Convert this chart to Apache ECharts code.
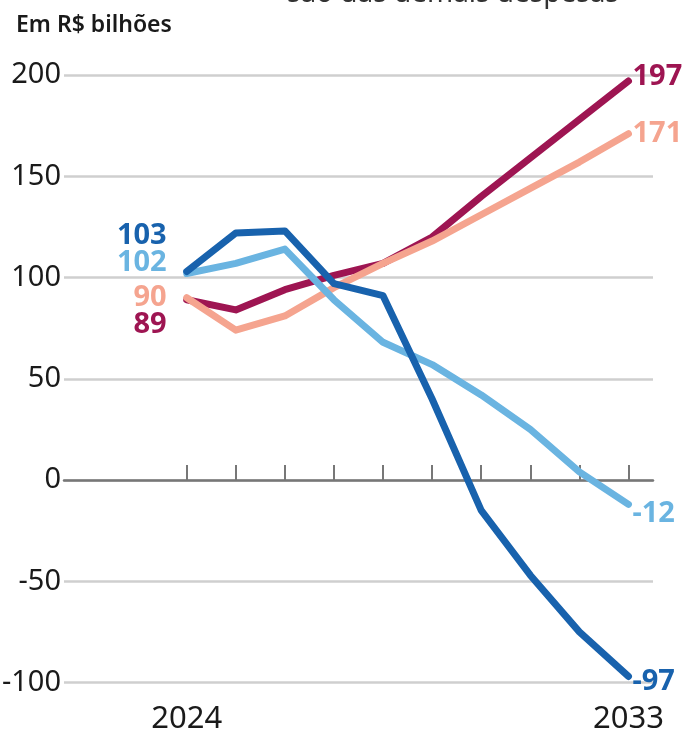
<!DOCTYPE html>
<html>
<head>
<meta charset="utf-8">
<script src="https://cdn.jsdelivr.net/npm/echarts@6/dist/echarts.min.js"></script>
<style>
html,body{margin:0;padding:0;background:#fff;}
#chart{width:693px;height:732px;}
</style>
</head>
<body>
<div id="chart"></div>
<script>
// ---- data ----
var years = [2024, 2025, 2026, 2027, 2028, 2029, 2030, 2031, 2032, 2033];
var serieCrimson = [89, 84, 94, 101, 107, 120, 140, 159, 178, 197];
var serieSalmon = [90, 74, 81, 95, 107, 118, 131, 144, 157, 171];
var serieLightBlue = [102, 107, 114, 89, 68, 57, 42, 25, 4, -12];
var serieDarkBlue = [103, 122, 123, 97, 91, 40, -15, -47, -75, -97];
var yTicks = [-100, -50, 0, 50, 100, 150, 200];
var xLabelYears = [2024, 2033];
var unitLabel = 'Em R$ bilhões';
var topText = 'são das demais despesas';

var FONT = '"Noto Sans", "Open Sans", sans-serif';

function makeSeries(name, values, color, startDy, endDy, z) {
  var last = values.length - 1;
  var data = years.map(function (yr, i) {
    var item = { value: [yr, values[i]] };
    if (i === 0) {
      item.label = { show: true, position: 'left', distance: 20 };
    } else if (i === last) {
      item.label = { show: true, position: 'right', distance: 4 };
    }
    return item;
  });
  return {
    name: name,
    type: 'line',
    xAxisIndex: 0,
    yAxisIndex: 0,
    data: data,
    z: z,
    showSymbol: true,
    symbol: 'circle',
    symbolSize: 0.01,
    lineStyle: { color: color, width: 7, cap: 'round', join: 'round' },
    itemStyle: { color: color },
    label: {
      show: false,
      color: color,
      fontFamily: FONT,
      fontWeight: 'bold',
      fontSize: 29,
      formatter: function (p) { return String(p.value[1]); }
    },
    labelLayout: function (params) {
      return { hideOverlap: false, dy: params.dataIndex === 0 ? startDy : endDy };
    },
    emphasis: { disabled: true },
    silent: true
  };
}

var chart = echarts.init(document.getElementById('chart'), null, { renderer: 'canvas' });
chart.setOption({
  animation: false,
  backgroundColor: '#ffffff',
  title: [
    {
      text: topText, left: 282, top: -25,
      textStyle: { fontFamily: FONT, fontSize: 28, fontWeight: 'normal', color: '#333' }
    },
    {
      text: unitLabel, left: 11, top: 9,
      textStyle: { fontFamily: FONT, fontSize: 23, fontWeight: 600, color: '#1a1a1a' }
    }
  ],
  grid: { left: 64, right: 40, top: 75, bottom: 49.5, containLabel: false, outerBoundsMode: 'none' },
  xAxis: [
    {
      type: 'value', min: 2021.5, max: 2033.5, position: 'bottom',
      axisLine: { show: true, onZero: true, lineStyle: { color: '#777', width: 2.5 } },
      axisTick: { show: true, inside: true, length: 15, customValues: years, lineStyle: { color: '#777', width: 2 } },
      axisLabel: { show: false },
      splitLine: { show: false }
    },
    {
      type: 'value', min: 2021.5, max: 2033.5, position: 'bottom',
      axisLine: { show: false, onZero: false },
      axisTick: { show: false },
      axisLabel: {
        show: true, customValues: xLabelYears, margin: 21,
        fontFamily: FONT, fontSize: 31, color: '#1a1a1a',
        formatter: function (v) { return String(v); }
      },
      splitLine: { show: false }
    }
  ],
  yAxis: {
    type: 'value', min: -100, max: 200, interval: 50,
    axisLine: { show: false },
    axisTick: { show: false },
    axisLabel: {
      margin: 3, fontFamily: FONT, fontSize: 29, color: '#1a1a1a',
      customValues: yTicks
    },
    splitLine: { show: true, lineStyle: { color: '#cfcfcf', width: 2.5 } }
  },
  series: [
    makeSeries('Série A', serieCrimson, '#9e1552', 25, -4, 2),
    makeSeries('Série B', serieSalmon, '#f5a48f', 0, 0, 3),
    makeSeries('Série C', serieLightBlue, '#6ab4e1', -11, 9, 4),
    makeSeries('Série D', serieDarkBlue, '#1862ad', -36, 5, 5)
  ]
});
</script>
</body>
</html>
